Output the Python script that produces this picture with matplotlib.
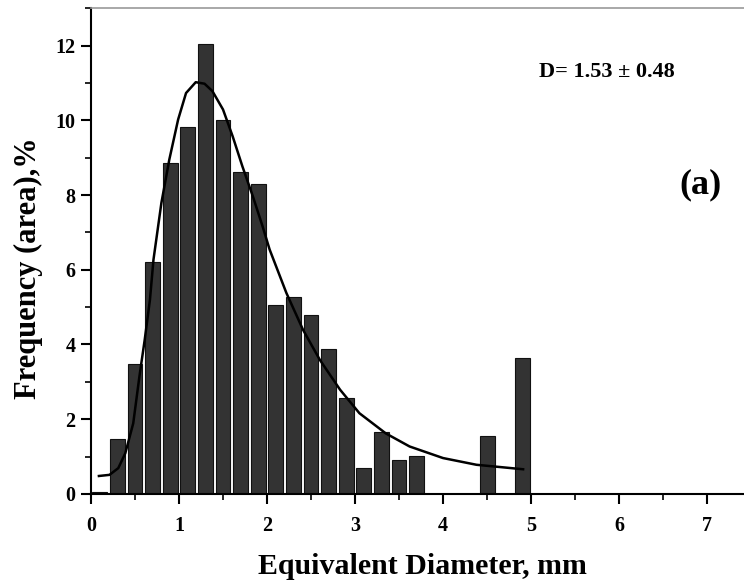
import matplotlib
matplotlib.use("Agg")
import matplotlib.pyplot as plt
from matplotlib.ticker import MultipleLocator

# Histogram bins (centres, mm) and frequency (area), %
bin_centers = [0.1, 0.3, 0.5, 0.7, 0.9, 1.1, 1.3, 1.5, 1.7, 1.9, 2.1, 2.3, 2.5,
               2.7, 2.9, 3.1, 3.3, 3.5, 3.7, 3.9, 4.1, 4.3, 4.5, 4.7, 4.9]
frequency = [0.05, 1.46, 3.47, 6.21, 8.86, 9.82, 12.03, 10.0, 8.62, 8.29, 5.06, 5.26, 4.8,
             3.88, 2.58, 0.7, 1.66, 0.9, 1.02, 0.0, 0.0, 0.0, 1.54, 0.0, 3.65]

# Fitted curve
fit_x = [0.09, 0.21, 0.31, 0.39, 0.48, 0.55, 0.61, 0.67, 0.71, 0.80, 0.89, 0.99, 1.08,
         1.19, 1.29, 1.38, 1.50, 1.61, 1.72, 1.84, 1.95, 2.03, 2.22, 2.41, 2.60, 2.83,
         3.05, 3.35, 3.62, 4.00, 4.38, 4.91]
fit_y = [0.48, 0.51, 0.69, 1.09, 1.89, 3.14, 4.12, 5.20, 6.27, 7.79, 8.95, 10.02, 10.73,
         11.02, 10.98, 10.78, 10.29, 9.57, 8.77, 7.96, 7.16, 6.54, 5.38, 4.39, 3.59, 2.79,
         2.16, 1.62, 1.27, 0.96, 0.78, 0.66]

plt.rcParams['font.family'] = ['Liberation Serif', 'DejaVu Serif']
plt.rcParams['font.weight'] = 'bold'

fig = plt.figure(figsize=(7.44, 5.88), dpi=100)
ax = fig.add_axes([0.1223, 0.160, 0.8777, 0.826])

ax.bar(bin_centers, frequency, width=0.17, color='#333333', edgecolor='#111111', linewidth=0.8, zorder=2)
ax.plot(fit_x, fit_y, color='black', linewidth=1.8, zorder=3, solid_joinstyle='round')

ax.set_xlim(0, 7.42)
ax.set_ylim(0, 13)
ax.xaxis.set_major_locator(MultipleLocator(1))
ax.xaxis.set_minor_locator(MultipleLocator(0.5))
ax.yaxis.set_major_locator(MultipleLocator(2))
ax.yaxis.set_minor_locator(MultipleLocator(1))

ax.tick_params(axis='both', which='major', direction='out', length=7, width=1.5, labelsize=14.5)
ax.tick_params(axis='both', which='minor', direction='out', length=4, width=1.2)
ax.tick_params(axis='x', which='major', pad=9)
ax.tick_params(axis='y', which='major', pad=4)
for lab in ax.get_xticklabels() + ax.get_yticklabels():
    lab.set_fontweight('bold')

ax.spines['right'].set_visible(False)
ax.spines['top'].set_color('#999999')
ax.spines['top'].set_linewidth(1.2)
ax.spines['left'].set_linewidth(1.5)
ax.spines['bottom'].set_linewidth(1.5)

ax.set_xlabel('Equivalent Diameter, mm', fontsize=21.5, fontweight='bold')
ax.set_ylabel('Frequency (area),%', fontsize=22, fontweight='bold')
ax.xaxis.set_label_coords(0.508, -0.122)
ax.yaxis.set_label_coords(-0.074, 0.465)

ax.text(0.686, 0.868, 'D= 1.53 ± 0.48', transform=ax.transAxes, fontsize=16,
        fontweight='bold', va='center', ha='left')
ax.text(0.934, 0.636, '(a)', transform=ax.transAxes, fontsize=26,
        fontweight='bold', va='center', ha='center')

fig.savefig('out.png', dpi=100)
